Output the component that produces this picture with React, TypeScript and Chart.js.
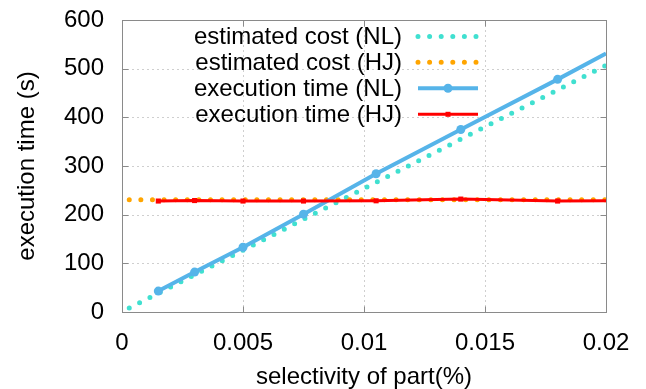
import React, { useEffect, useRef } from "react";
import { Chart, registerables } from "chart.js";

Chart.register(...registerables);

// ---- data ----
const seriesNames = [
  "estimated cost (NL)",
  "estimated cost (HJ)",
  "execution time (NL)",
  "execution time (HJ)",
];
const xCost = [0.0003, 0.02];
const costNL = [8, 507];
const costHJ = [230.5, 230.5];
const xExec = [0.0015, 0.003, 0.005, 0.0075, 0.0105, 0.014, 0.018, 0.02];
const execNL = [43, 82, 133, 201, 284, 375, 478, 531];
const execHJ = [228, 229, 228, 228, 228.5, 232, 228, 228.5];
const markerShown = [true, true, true, true, true, true, true, false];
const xTicks = [0, 0.005, 0.01, 0.015, 0.02];
const xTickLabels = ["0", "0.005", "0.01", "0.015", "0.02"];
const yTicks = [0, 100, 200, 300, 400, 500, 600];
const yTickLabels = ["0", "100", "200", "300", "400", "500", "600"];
const xTitle = "selectivity of part(%)";
const yTitle = "execution time (s)";

const COLORS = ["#40e0d0", "#ffa500", "#56b4e9", "#ff0000"];
const FONT = "'Liberation Sans', Arial, sans-serif";

const toPts = (xs: number[], ys: number[]) => xs.map((x, i) => ({ x, y: ys[i] }));

const framePlugin = {
  id: "frame",
  beforeDatasetsDraw(chart: any) {
    const { ctx, chartArea: a, scales } = chart;
    const xs = scales.x, ys = scales.y;
    ctx.save();
    // grid
    ctx.strokeStyle = "#cfcfcf";
    ctx.lineWidth = 1;
    ctx.setLineDash([2, 3]);
    xTicks.forEach((v) => {
      const px = Math.round(xs.getPixelForValue(v)) + 0.5;
      if (px < a.left + 2 || px > a.right - 2) return;
      ctx.beginPath();
      ctx.moveTo(px, a.top);
      ctx.lineTo(px, a.bottom);
      ctx.stroke();
    });
    yTicks.forEach((v) => {
      const py = Math.round(ys.getPixelForValue(v)) + 0.5;
      if (py < a.top + 2 || py > a.bottom - 2) return;
      ctx.beginPath();
      ctx.moveTo(a.left, py);
      ctx.lineTo(a.right, py);
      ctx.stroke();
    });
    ctx.setLineDash([]);
    // box
    ctx.strokeStyle = "#8a8a8a";
    ctx.lineWidth = 1;
    const L = Math.round(a.left) + 0.5, R = Math.round(a.right) + 0.5;
    const T = Math.round(a.top) + 0.5, B = Math.round(a.bottom) + 0.5;
    ctx.strokeRect(L, T, R - L, B - T);
    // inward ticks
    const tl = 6;
    ctx.beginPath();
    xTicks.forEach((v) => {
      const px = Math.round(xs.getPixelForValue(v)) + 0.5;
      ctx.moveTo(px, B); ctx.lineTo(px, B - tl);
      ctx.moveTo(px, T); ctx.lineTo(px, T + tl);
    });
    yTicks.forEach((v) => {
      const py = Math.round(ys.getPixelForValue(v)) + 0.5;
      ctx.moveTo(L, py); ctx.lineTo(L + tl, py);
      ctx.moveTo(R, py); ctx.lineTo(R - tl, py);
    });
    ctx.stroke();
    ctx.restore();
  },
};

const legendPlugin = {
  id: "customLegend",
  afterDraw(chart: any) {
    const { ctx } = chart;
    const rows = [36.5, 62.3, 88.3, 114.3];
    const textRight = 402;
    const x0 = 418, x1 = 478, xm = 448;
    ctx.save();
    ctx.font = `24px ${FONT}`;
    ctx.fillStyle = "#000";
    ctx.textAlign = "right";
    ctx.textBaseline = "middle";
    chart.data.datasets.forEach((ds: any, i: number) => {
      const y = rows[i];
      ctx.fillText(ds.label, textRight, y + 1);
      ctx.strokeStyle = ds.borderColor;
      ctx.fillStyle = ds.borderColor;
      ctx.lineWidth = ds.borderWidth;
      ctx.lineCap = ds.borderCapStyle || "butt";
      ctx.setLineDash(ds.borderDash || []);
      ctx.beginPath();
      ctx.moveTo(x0, y);
      ctx.lineTo(x1, y);
      ctx.stroke();
      ctx.setLineDash([]);
      if (ds.legendMarker === "circle") {
        ctx.beginPath();
        ctx.arc(xm, y, 4.5, 0, Math.PI * 2);
        ctx.fill();
      } else if (ds.legendMarker === "rect") {
        ctx.fillRect(xm - 2.5, y - 2.5, 5, 5);
      }
      ctx.fillStyle = "#000";
    });
    ctx.restore();
  },
};

export default function App() {
  const ref = useRef<HTMLCanvasElement>(null);
  useEffect(() => {
    if (!ref.current) return;
    const tickFont = { family: FONT, size: 24 };
    const chart = new Chart(ref.current, {
      type: "scatter",
      data: {
        datasets: [
          {
            label: seriesNames[0],
            data: toPts(xCost, costNL),
            showLine: true,
            borderColor: COLORS[0],
            backgroundColor: COLORS[0],
            borderWidth: 5,
            borderDash: [0, 11.6],
            borderCapStyle: "round",
            pointRadius: 0,
            order: 3,
          } as any,
          {
            label: seriesNames[1],
            data: toPts(xCost, costHJ),
            showLine: true,
            borderColor: COLORS[1],
            backgroundColor: COLORS[1],
            borderWidth: 5,
            borderDash: [0, 11.6],
            borderCapStyle: "round",
            pointRadius: 0,
            order: 2,
          } as any,
          {
            label: seriesNames[2],
            data: toPts(xExec, execNL),
            showLine: true,
            borderColor: COLORS[2],
            backgroundColor: COLORS[2],
            borderWidth: 4,
            pointStyle: "circle",
            pointRadius: markerShown.map((m) => (m ? 4.5 : 0)),
            pointBorderWidth: 0,
            legendMarker: "circle",
            order: 1,
          } as any,
          {
            label: seriesNames[3],
            data: toPts(xExec, execHJ),
            showLine: true,
            borderColor: COLORS[3],
            backgroundColor: COLORS[3],
            borderWidth: 3,
            pointStyle: "rect",
            pointRadius: markerShown.map((m) => (m ? 3.6 : 0)),
            pointBorderWidth: 0,
            legendMarker: "rect",
            order: 0,
          } as any,
        ],
      },
      options: {
        animation: false,
        responsive: false,
        devicePixelRatio: 1,
        layout: { padding: { top: 20, right: 40, left: 0, bottom: 0 } },
        plugins: { legend: { display: false }, tooltip: { enabled: false } },
        scales: {
          x: {
            type: "linear",
            min: 0,
            max: 0.02,
            afterBuildTicks: (s: any) => {
              s.ticks = xTicks.map((v) => ({ value: v }));
            },
            afterFit: (s: any) => {
              s.height = 77;
              s.paddingLeft = 0;
              s.paddingRight = 0;
            },
            ticks: {
              callback: (_v: any, i: number) => xTickLabels[i],
              font: tickFont,
              color: "#000",
              padding: 17,
              maxRotation: 0,
              autoSkip: false,
            },
            grid: { display: false, drawTicks: false },
            border: { display: false },
            title: {
              display: true,
              text: xTitle,
              font: { family: FONT, size: 24, lineHeight: 1.0 },
              color: "#000",
              padding: { top: 0, bottom: 0 },
            },
          },
          y: {
            type: "linear",
            min: 0,
            max: 600,
            afterBuildTicks: (s: any) => {
              s.ticks = yTicks.map((v) => ({ value: v }));
            },
            afterFit: (s: any) => {
              s.width = 122;
              s.paddingTop = 0;
              s.paddingBottom = 0;
            },
            ticks: {
              callback: (_v: any, i: number) => yTickLabels[i],
              font: tickFont,
              color: "#000",
              padding: 18,
              autoSkip: false,
            },
            grid: { display: false, drawTicks: false },
            border: { display: false },
            title: {
              display: true,
              text: yTitle,
              font: { family: FONT, size: 24 },
              color: "#000",
              padding: { top: 13, bottom: 0 },
            },
          },
        },
      } as any,
      plugins: [framePlugin, legendPlugin],
    });
    return () => chart.destroy();
  }, []);
  return (
    <div style={{ position: "absolute", left: 0, top: 0, width: 646, height: 389, background: "#fff" }}>
      <canvas ref={ref} width={646} height={389} />
    </div>
  );
}
